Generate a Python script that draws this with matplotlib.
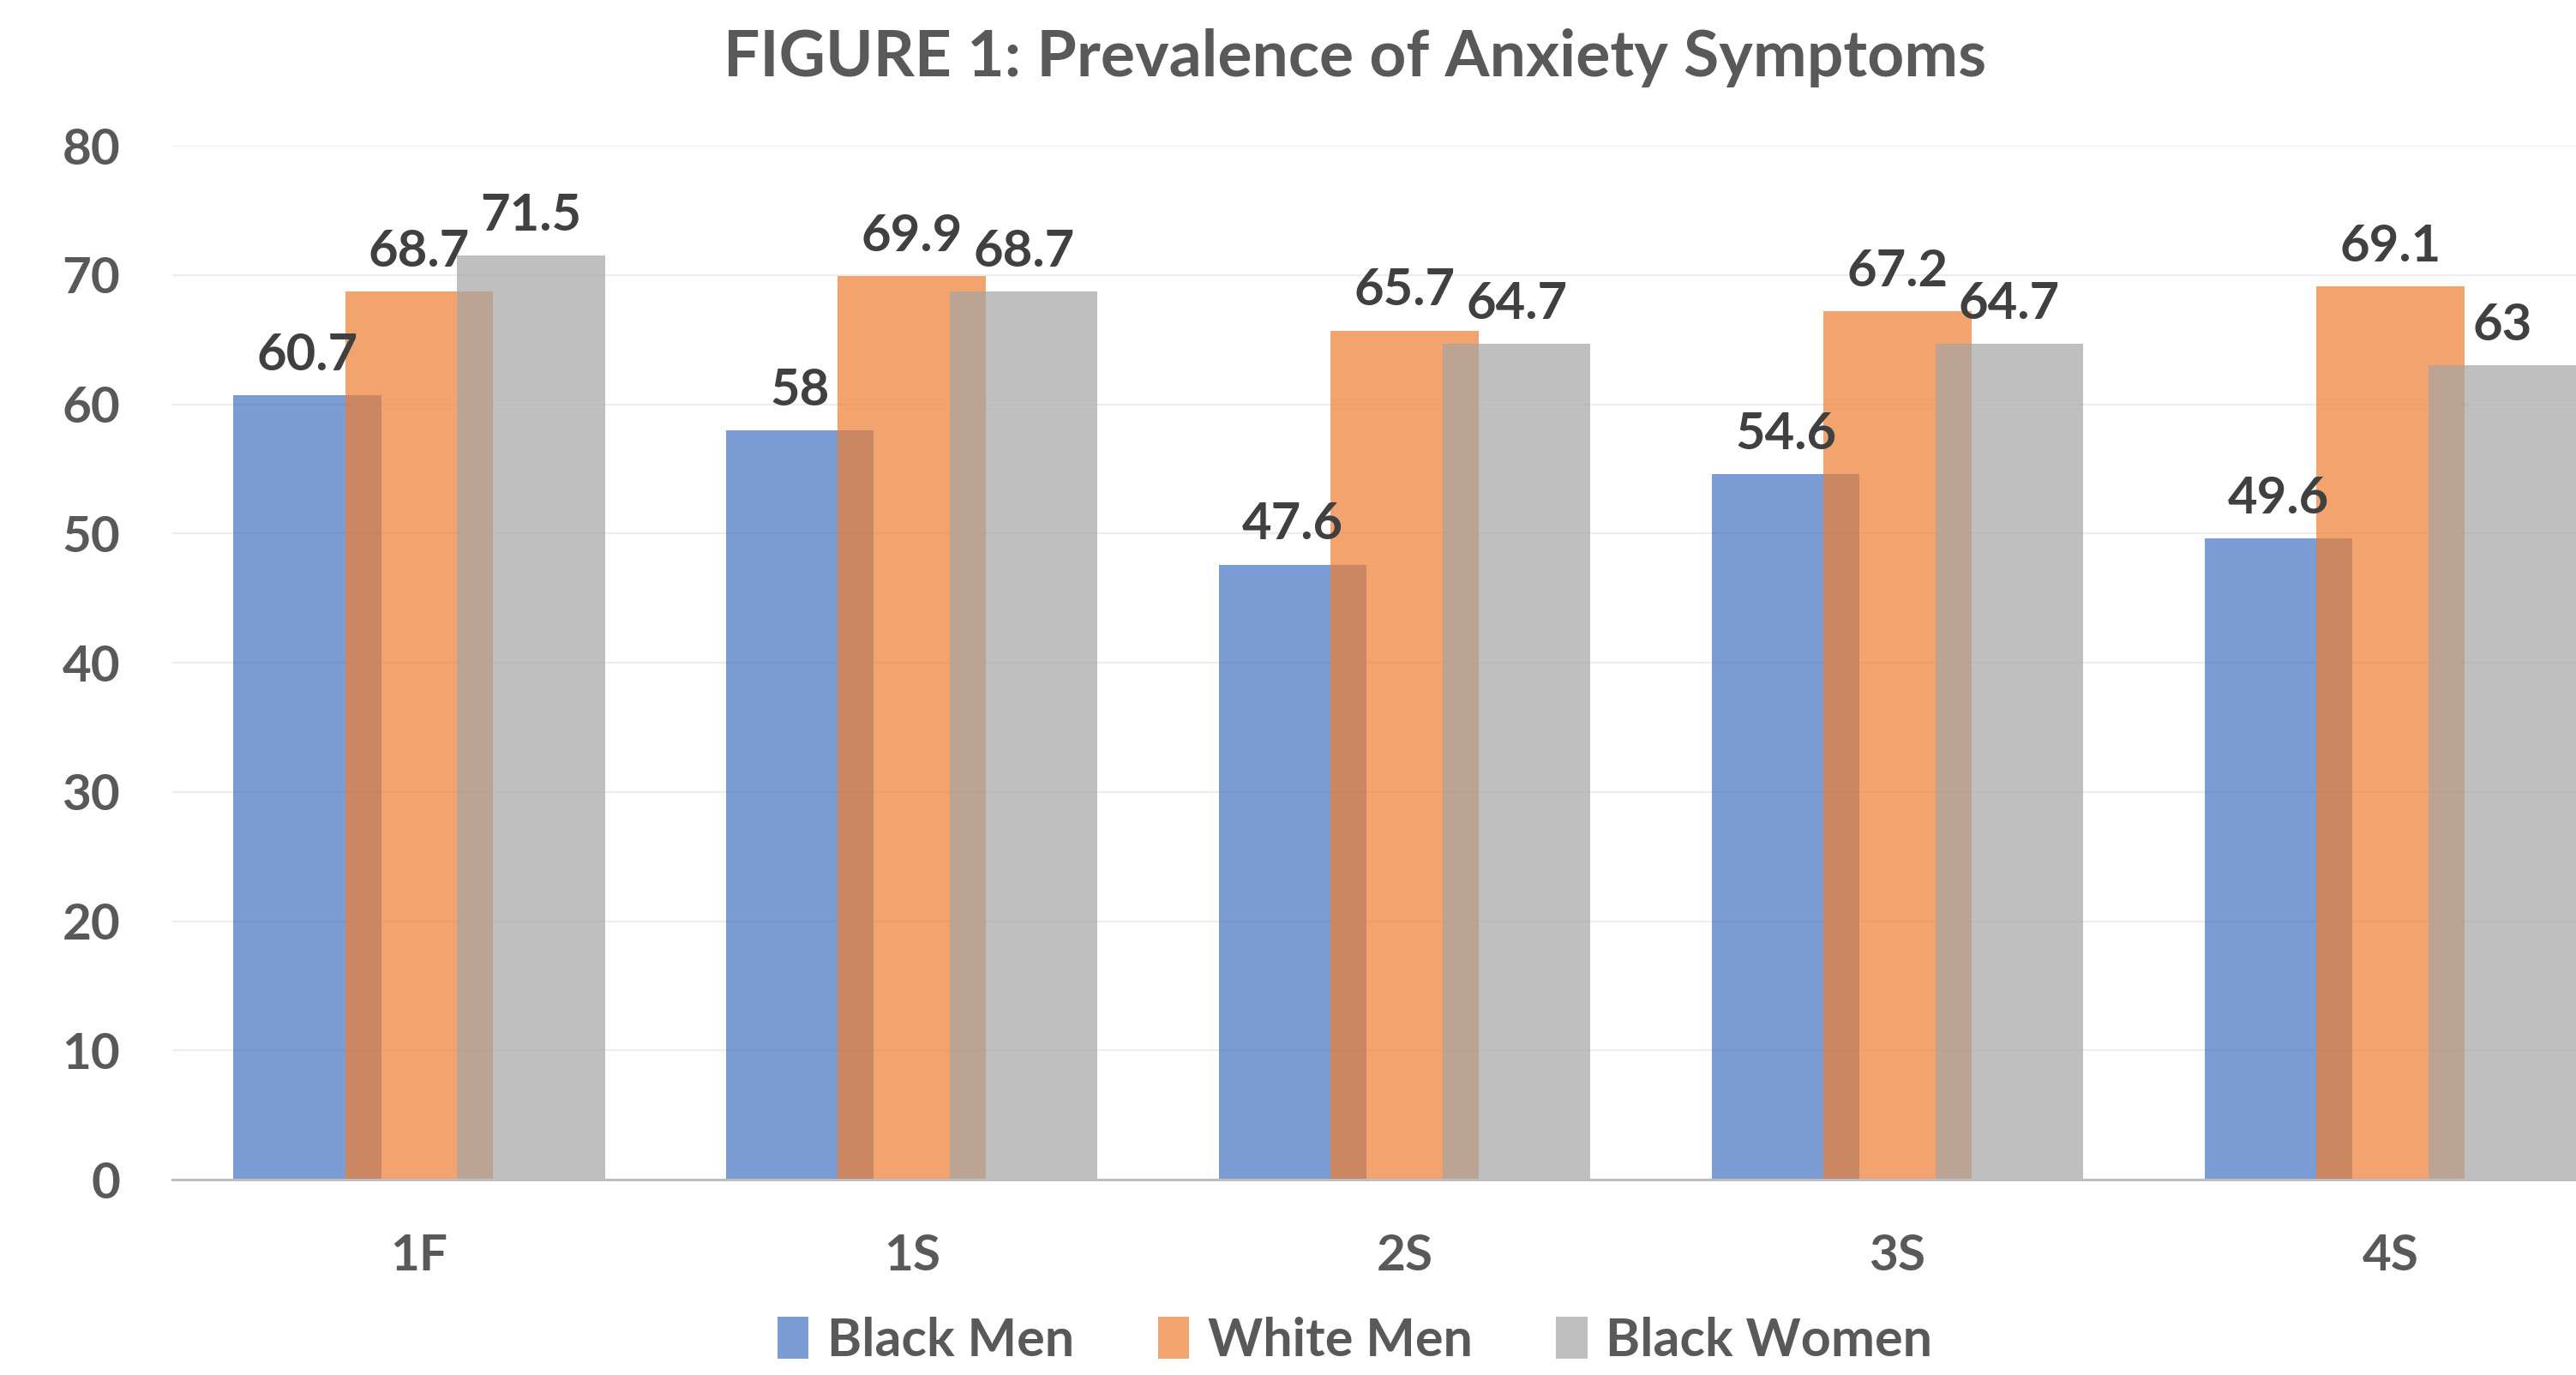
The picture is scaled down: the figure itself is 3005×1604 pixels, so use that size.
import matplotlib
matplotlib.use("Agg")
import matplotlib.pyplot as plt
import numpy as np

plt.rcParams["font.family"] = ["Lato", "DejaVu Sans"]
plt.rcParams["font.weight"] = "bold"

categories = ["1F", "1S", "2S", "3S", "4S"]
black_men = [60.7, 58, 47.6, 54.6, 49.6]
white_men = [68.7, 69.9, 65.7, 67.2, 69.1]
black_women = [71.5, 68.7, 64.7, 64.7, 63]

series = [
    ("Black Men", black_men, "#4472C4"),
    ("White Men", white_men, "#ED7D31"),
    ("Black Women", black_women, "#A5A5A5"),
]

fig = plt.figure(figsize=(30.05, 16.04), dpi=100)
ax = fig.add_axes([0.067, 0.142, 0.9566, 0.752])

x = np.arange(len(categories))
width = 0.30
step = 0.227

# overlapping, semi-transparent bars with value labels on top
for i, (name, values, color) in enumerate(series):
    pos = x + (i - 1) * step
    ax.bar(pos, values, width=width, color=color, alpha=0.7,
           label=name, zorder=2, linewidth=0)
    for px, v in zip(pos, values):
        ax.annotate(f"{v:g}", (px, v), xytext=(0, 21), textcoords="offset points",
                    ha="center", va="baseline", fontsize=43,
                    fontweight="bold", color="#404040", zorder=3)

ax.set_xlim(-0.5, 4.5)
ax.set_ylim(0, 80)
ax.set_yticks(range(0, 81, 10))
ax.set_xticks(x)
ax.set_xticklabels(categories)

ax.grid(axis="y", color="#EDEDED", linewidth=1.5, zorder=0)
ax.set_axisbelow(True)
for side in ["top", "right", "left"]:
    ax.spines[side].set_visible(False)
ax.spines["bottom"].set_color("#BFBFBF")
ax.spines["bottom"].set_linewidth(2.2)
ax.spines["bottom"].set_zorder(4)

ax.tick_params(axis="both", length=0, labelsize=42, labelcolor="#595959")
ax.tick_params(axis="y", pad=44)
ax.tick_params(axis="x", pad=45)

fig.text(0.526, 0.958, "FIGURE 1: Prevalence of Anxiety Symptoms",
         ha="center", va="center", fontsize=54, fontweight="bold", color="#595959")

fig.legend(loc="center", bbox_to_anchor=(0.526, 0.025), ncol=3, frameon=False,
           fontsize=44, labelcolor="#595959", handlelength=0.6, handleheight=0.85,
           handletextpad=0.35, columnspacing=1.6)

fig.savefig("out.png", dpi=100)
